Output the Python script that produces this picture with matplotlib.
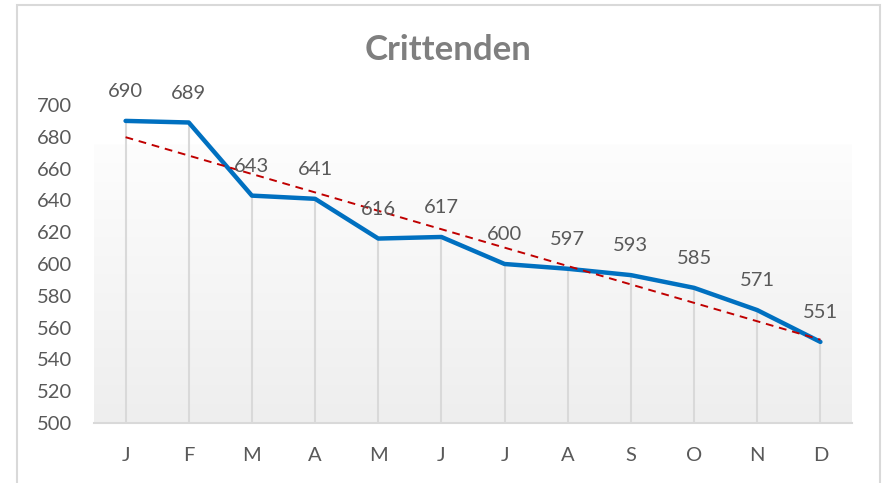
import matplotlib
matplotlib.use('Agg')
import matplotlib.pyplot as plt
import numpy as np
from matplotlib.patches import Rectangle
from matplotlib.colors import LinearSegmentedColormap

plt.rcParams['font.family'] = ['Lato', 'DejaVu Sans']

months = ['J', 'F', 'M', 'A', 'M', 'J', 'J', 'A', 'S', 'O', 'N', 'D']
values = [690, 689, 643, 641, 616, 617, 600, 597, 593, 585, 571, 551]
yticks = [500, 520, 540, 560, 580, 600, 620, 640, 660, 680, 700]

x = np.arange(len(values))

fig = plt.figure(figsize=(8.84, 4.83), dpi=100)
ax = fig.add_axes([94 / 884, 60 / 483, 758 / 884, 318 / 483])

# soft gradient behind the lower part of the plot area
cmap = LinearSegmentedColormap.from_list('bg', ['#eeeeee', '#fdfdfd'])
grad = np.linspace(0, 1, 256).reshape(-1, 1)
ax.imshow(grad, cmap=cmap, aspect='auto', origin='lower',
          extent=[-0.5, len(values) - 0.5, 500, 675], zorder=0)

# drop lines
ax.vlines(x, 500, values, colors='#d9d9d9', linewidth=1.5, zorder=1)

# series
ax.plot(x, values, color='#0070c0', linewidth=3.2, solid_capstyle='round',
        solid_joinstyle='round', zorder=3)

# linear trendline
k, b = np.polyfit(x, values, 1)
ax.plot(x, k * x + b, color='#c00000', linewidth=1.4, linestyle=(0, (4, 3)), zorder=4)

for xi, v in zip(x, values):
    ax.annotate(str(v), (xi, v), xytext=(0, 15), textcoords='offset points',
                ha='center', va='bottom', fontsize=14.5, color='#595959', zorder=5)

ax.set_xlim(-0.5, len(values) - 0.5)
ax.set_ylim(500, 700)
ax.set_yticks(yticks)
ax.set_xticks(x)
ax.set_xticklabels(months)
ax.tick_params(axis='both', length=0, labelsize=14.5, colors='#595959')
ax.tick_params(axis='y', pad=16)
ax.tick_params(axis='x', pad=17)
for s in ['top', 'right', 'left']:
    ax.spines[s].set_visible(False)
ax.spines['bottom'].set_color('#d9d9d9')
ax.spines['bottom'].set_linewidth(1.5)
ax.spines['bottom'].set_zorder(2)

fig.text(448 / 884, 1 - 50 / 483, 'Crittenden', ha='center', va='center',
         fontsize=25, fontweight='bold', color='#7f7f7f')

# chart border
fig.patches.append(Rectangle((16.5 / 884, -0.05), (880 - 16.5) / 884, 1.05 - 5.5 / 483,
                             transform=fig.transFigure, fill=False,
                             edgecolor='#d9d9d9', linewidth=1.5))

fig.savefig('out.png', dpi=100)
